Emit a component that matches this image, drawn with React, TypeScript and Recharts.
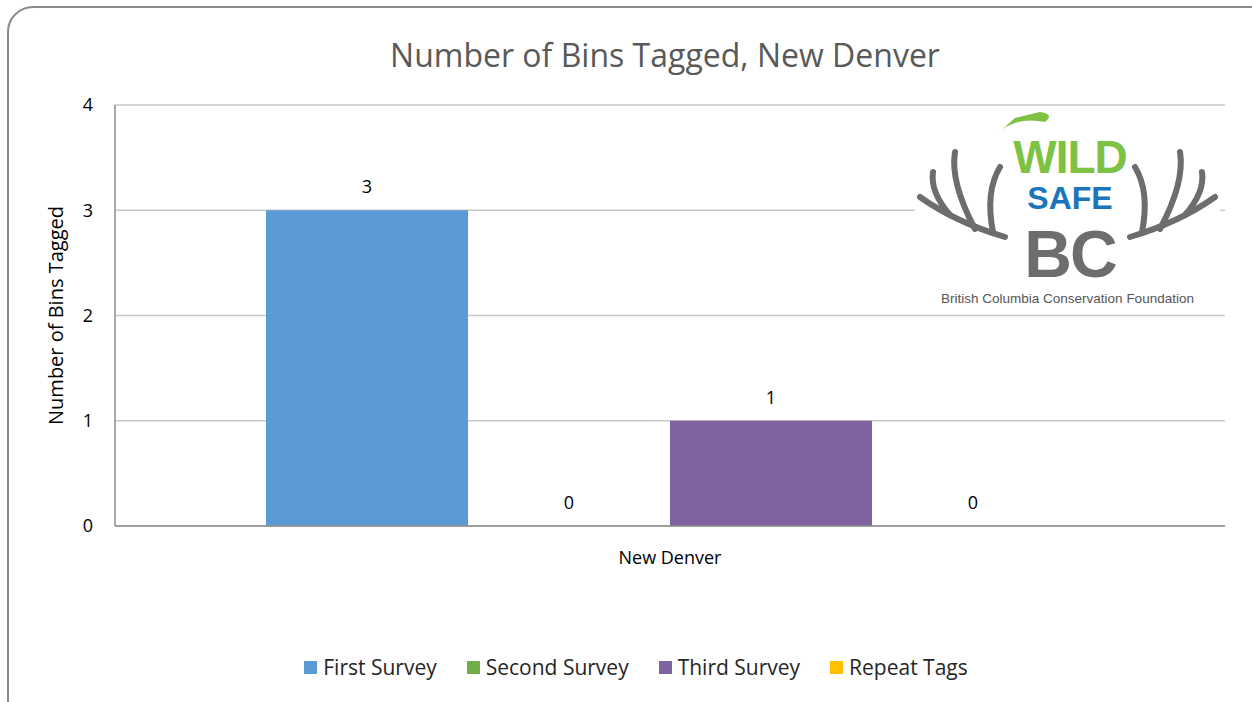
import React from 'react';
import { BarChart, Bar, XAxis, YAxis, CartesianGrid, Legend, Label } from 'recharts';

const categories = ['New Denver'];
const firstSurvey = [3];
const secondSurvey = [0];
const thirdSurvey = [1];
const repeatTags = [0];
const yTicks = [0, 1, 2, 3, 4];

const seriesInfo = [
  { key: 'first', name: 'First Survey', color: '#5B9BD5', values: firstSurvey },
  { key: 'second', name: 'Second Survey', color: '#70AD47', values: secondSurvey },
  { key: 'third', name: 'Third Survey', color: '#8064A2', values: thirdSurvey },
  { key: 'repeat', name: 'Repeat Tags', color: '#FFC000', values: repeatTags },
];

const data = categories.map((c, i) => {
  const row: any = { name: c };
  seriesInfo.forEach((s) => (row[s.key] = s.values[i]));
  return row;
});

const FONT = '"Open Sans", sans-serif';

const renderLabel = (props: any) => {
  const { x, y, width, value } = props;
  return (
    <text x={Number(x) + Number(width) / 2} y={Number(y) - 17} textAnchor="middle" fill="#000" fontSize={18} fontFamily={FONT}>
      {value}
    </text>
  );
};

const LegendContent = () => (
  <div style={{ display: 'flex', justifyContent: 'center', alignItems: 'center', fontFamily: FONT, fontSize: 21, color: '#262626' }}>
    {seriesInfo.map((s, i) => (
      <div key={s.key} style={{ display: 'flex', alignItems: 'center', marginRight: i < seriesInfo.length - 1 ? 30 : 0 }}>
        <span style={{ width: 13, height: 13, background: s.color, display: 'inline-block', marginRight: 6 }} />
        <span>{s.name}</span>
      </div>
    ))}
  </div>
);

const Logo = () => (
  <div style={{ position: 'absolute', left: 915, top: 112, width: 305, height: 200, background: '#fff', fontFamily: 'Liberation Sans, Arial, sans-serif' }}>
    <svg width={305} height={200} style={{ position: 'absolute', left: 0, top: 0 }}>
      <g stroke="#6d6d6d" strokeWidth={6} fill="none" strokeLinecap="round">
        <path d="M90,125 Q40,110 5,85" />
        <path d="M60,117 Q35,70 40,40" />
        <path d="M35,103 Q15,80 18,60" />
        <path d="M78,120 Q70,80 85,55" />
        <path d="M215,125 Q265,110 300,85" />
        <path d="M245,117 Q270,70 265,40" />
        <path d="M270,103 Q290,80 287,60" />
        <path d="M227,120 Q235,80 220,55" />
      </g>
      <path d="M82,22 Q100,4 130,10 Q140,2 125,0 L100,6 Z" fill="#7DC242" />
    </svg>
    <div style={{ position: 'absolute', left: 85, top: 22, width: 140, height: 46, textAlign: 'center', fontWeight: 900, fontSize: 46, lineHeight: '46px', color: '#7DC242', letterSpacing: -1 }}>WILD</div>
    <div style={{ position: 'absolute', left: 85, top: 70, width: 140, height: 32, textAlign: 'center', fontWeight: 900, fontSize: 32, lineHeight: '32px', color: '#1B75BB', letterSpacing: 0 }}>SAFE</div>
    <div style={{ position: 'absolute', left: 85, top: 109, width: 140, height: 66, textAlign: 'center', fontWeight: 900, fontSize: 66, lineHeight: '66px', color: '#6d6d6d', letterSpacing: -2 }}>BC</div>
    <div style={{ position: 'absolute', left: 0, top: 179, width: 305, textAlign: 'center', fontSize: 13.5, lineHeight: '16px', color: '#555' }}>British Columbia Conservation Foundation</div>
  </div>
);

export default function App() {
  return (
    <div style={{ position: 'absolute', left: 0, top: 0, width: 1252, height: 702, background: '#fff', overflow: 'hidden' }}>
      <div style={{ position: 'absolute', left: 7, top: 6, width: 1270, height: 720, border: '2px solid #8a8a8a', borderRadius: 26, boxSizing: 'border-box' }} />
      <div style={{ position: 'absolute', left: 0, top: 33, width: 1330, textAlign: 'center', fontFamily: FONT, fontSize: 32, color: '#595959' }}>
        Number of Bins Tagged, New Denver
      </div>
      <div style={{ position: 'absolute', left: 0, top: 0 }}>
        <BarChart width={1252} height={702} data={data} margin={{ top: 105, right: 27, bottom: 118, left: 55 }} barCategoryGap={151} barGap={0}>
          <CartesianGrid vertical={false} stroke="#c8c8c8" strokeWidth={1.5} />
          <XAxis dataKey="name" tickLine={false} axisLine={{ stroke: '#8c8c8c', strokeWidth: 1.5 }} tick={{ fill: '#000', fontSize: 18, fontFamily: FONT }} tickMargin={19} />
          <YAxis width={60} domain={[0, 4]} ticks={yTicks} tickLine={false} axisLine={{ stroke: '#8c8c8c', strokeWidth: 1.5 }} tick={{ fill: '#000', fontSize: 18, fontFamily: FONT }} tickMargin={16}>
            <Label value="Number of Bins Tagged" angle={-90} position="insideLeft" dx={-4} style={{ textAnchor: 'middle', fontSize: 20, fontFamily: FONT, fill: '#000' }} />
          </YAxis>
          {seriesInfo.map((s) => (
            <Bar key={s.key} dataKey={s.key} name={s.name} fill={s.color} isAnimationActive={false} minPointSize={0.01} label={renderLabel} />
          ))}
          <Legend verticalAlign="bottom" content={<LegendContent />} wrapperStyle={{ top: 653, left: 10, width: 1252 }} />
        </BarChart>
      </div>
      <Logo />
    </div>
  );
}
